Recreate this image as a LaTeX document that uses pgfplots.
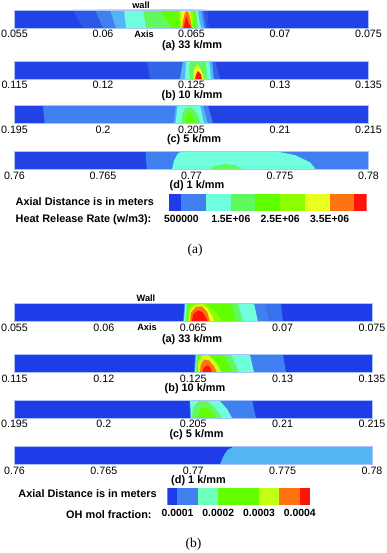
\documentclass[border=0pt]{standalone}
\usepackage{fontspec}
\setmainfont{Liberation Sans}
\newfontfamily\serifcap{Liberation Serif}
\usepackage{pgfplots}
\pgfplotsset{compat=1.18}
\definecolor{cDark}{HTML}{2342E6}
\definecolor{cBack}{HTML}{1E3CE8}
\definecolor{cSoft}{HTML}{2C58E8}
\definecolor{cMid}{HTML}{4080F0}
\definecolor{cSky}{HTML}{55B4F4}
\definecolor{cCyan}{HTML}{70FFDC}
\definecolor{cLight}{HTML}{62F860}
\definecolor{cGreen}{HTML}{60FF00}
\definecolor{cLime}{HTML}{8CFF00}
\definecolor{cYellow}{HTML}{E8FF20}
\definecolor{cOrange}{HTML}{FF7410}
\definecolor{cRed}{HTML}{FF1408}
\definecolor{edge}{HTML}{A8C4F8}
\newcommand{\fs}[1]{\fontsize{#1bp}{#1bp}\selectfont}
\pgfplotsset{
  chan/.style={
    scale only axis,width=354bp,height=18bp,anchor=south west,
    ymin=0,ymax=1,ytick=\empty,scaled x ticks=false,
    xtick pos=bottom,major tick length=0pt,
    xticklabel style={font=\fs{10.7},yshift=1pt},
    axis line style={edge,line width=0.6pt},
    axis on top,axis background/.style={fill=cDark},
  },
  low/.style={chan,width=357.5bp,axis background/.style={fill=cBack}},
  bar/.style={
    scale only axis,anchor=south west,ymin=0,ymax=1,ytick=\empty,scaled x ticks=false,
    xtick pos=bottom,major tick length=0pt,
    xticklabel style={font=\bfseries\fs{10.4},yshift=-1.5pt},
    axis line style={draw=none},
  },
  reg/.style={fill=#1,draw=none},
}
\begin{document}
\begin{tikzpicture}
\useasboundingbox (0,0) rectangle (387bp,-553bp);

% panel (a), heat release rate
\begin{axis}[chan,at={(14.5bp,-28bp)},xmin=0.055,xmax=0.075,
  xtick={0.055,0.06,0.065,0.07,0.075},xticklabels={0.055,0.06,0.065,0.07,0.075}]
\addplot[reg=cSoft] coordinates {(0.0583,1)(0.05887,0)(0.06599,0)(0.06588,1)} --cycle;
\addplot[reg=cMid] coordinates {(0.05955,1)(0.0600,0)(0.06582,0)(0.06565,1)} --cycle;
\addplot[reg=cSky] coordinates {(0.0604,1)(0.06073,0)(0.06571,0)(0.06554,1)} --cycle;
\addplot[reg=cCyan] coordinates {(0.06119,1)(0.0613,0)(0.06554,0)(0.06542,0.5)(0.06537,1)} --cycle;
\addplot[reg=cLight] coordinates {(0.06226,1)(0.06243,0)(0.06537,0)(0.06531,0.5)(0.06525,1)} --cycle;
\addplot[reg=cGreen] coordinates {(0.06322,1)(0.0639,0)(0.06525,0)(0.0652,1)} --cycle;
\addplot[reg=cLime] coordinates {(0.06424,1)(0.06435,0)(0.06515,0)(0.06508,1)} --cycle;
\addplot[reg=cYellow] coordinates {(0.06441,1)(0.06435,0.5)(0.06446,0)(0.06503,0)(0.06492,1)} --cycle;
\addplot[reg=cOrange] coordinates {(0.06446,0)(0.06452,0.4)(0.06463,0.85)(0.06475,0.95)(0.06486,0.8)(0.06497,0.3)(0.06503,0)} --cycle;
\addplot[reg=cRed] coordinates {(0.06455,0)(0.06461,0.3)(0.06472,0.65)(0.06483,0.3)(0.06497,0)} --cycle;
\end{axis}

\begin{axis}[chan,at={(14.5bp,-79bp)},xmin=0.115,xmax=0.135,
  xtick={0.115,0.12,0.125,0.13,0.135},xticklabels={0.115,0.12,0.125,0.13,0.135}]
\addplot[reg=cSoft!70!cMid] coordinates {(0.12249,1)(0.12266,0)(0.12661,0)(0.12633,1)} --cycle;
\addplot[reg=cSky] coordinates {(0.12452,1)(0.12435,0)(0.12627,0)(0.12616,1)} --cycle;
\addplot[reg=cCyan] coordinates {(0.12469,1)(0.12463,0)(0.1261,0)(0.12605,0.5)(0.12599,1)} --cycle;
\addplot[reg=cLight] coordinates {(0.12492,1)(0.12486,0.5)(0.12492,0)(0.12588,0)(0.12582,1)} --cycle;
\addplot[reg=cYellow] coordinates {(0.12509,0)(0.12514,0.5)(0.12534,0.82)(0.12554,0.5)(0.12571,0)} --cycle;
\addplot[reg=cRed] coordinates {(0.1252,0)(0.12525,0.25)(0.12537,0.45)(0.12554,0.25)(0.12559,0)} --cycle;
\end{axis}

\begin{axis}[chan,at={(14.5bp,-123.5bp)},xmin=0.195,xmax=0.215,
  xtick={0.195,0.2,0.205,0.21,0.215},xticklabels={0.195,0.2,0.205,0.21,0.215}]
\addplot[reg=cMid] coordinates {(0.19661,1)(0.1967,0)(0.20622,0)(0.20593,1)} --cycle;
\addplot[reg=cSky] coordinates {(0.20412,1)(0.20401,0)(0.20593,0)(0.20565,1)} --cycle;
\addplot[reg=cCyan] coordinates {(0.20421,1)(0.2041,0)(0.20571,0)(0.20548,1)} --cycle;
\addplot[reg=cLight] coordinates {(0.20444,0)(0.20446,0.5)(0.20469,0.88)(0.20503,0.88)(0.20537,0.5)(0.20548,0)} --cycle;
\addplot[reg=cGreen] coordinates {(0.20463,0)(0.20469,0.35)(0.20486,0.7)(0.20509,0.35)(0.20525,0)} --cycle;
\end{axis}

\begin{axis}[chan,at={(14.5bp,-169.5bp)},xmin=0.76,xmax=0.78,
  xtick={0.76,0.765,0.77,0.775,0.78},xticklabels={0.76,0.765,0.77,0.775,0.78}]
\addplot[reg=cMid] coordinates {(0.76741,1)(0.76747,0)(0.78,0)(0.78,1)} --cycle;
\addplot[reg=cCyan] coordinates {(0.7689,0)(0.76901,0.5)(0.76924,0.9)(0.76946,1)(0.77483,1)(0.77585,0.8)(0.7767,0.4)(0.77703,0)} --cycle;
\addplot[reg=cLight] coordinates {(0.77099,0)(0.77133,0.2)(0.77189,0.3)(0.77246,0.25)(0.77291,0)} --cycle;
\end{axis}

% colour bar of panel (a)
\begin{axis}[bar,at={(169bp,-210.7bp)},width=197.7bp,height=16.7bp,
  xmin=250000,xmax=4250000,
  xtick={500000,1500000,2500000,3500000},xticklabels={500000,1.5E+06,2.5E+06,3.5E+06}]
\addplot[reg=cBack] coordinates {(250000,0)(500000,0)(500000,1)(250000,1)} --cycle;
\addplot[reg=cMid] coordinates {(500000,0)(1000000,0)(1000000,1)(500000,1)} --cycle;
\addplot[reg=cCyan] coordinates {(1000000,0)(1500000,0)(1500000,1)(1000000,1)} --cycle;
\addplot[reg=cLight] coordinates {(1500000,0)(2000000,0)(2000000,1)(1500000,1)} --cycle;
\addplot[reg=cGreen] coordinates {(2000000,0)(2500000,0)(2500000,1)(2000000,1)} --cycle;
\addplot[reg=cLime] coordinates {(2500000,0)(3000000,0)(3000000,1)(2500000,1)} --cycle;
\addplot[reg=cYellow] coordinates {(3000000,0)(3500000,0)(3500000,1)(3000000,1)} --cycle;
\addplot[reg=cOrange] coordinates {(3500000,0)(4000000,0)(4000000,1)(3500000,1)} --cycle;
\addplot[reg=cRed] coordinates {(4000000,0)(4250000,0)(4250000,1)(4000000,1)} --cycle;
\end{axis}

% panel (b), OH mol fraction
\begin{axis}[low,at={(14.5bp,-321.5bp)},xmin=0.055,xmax=0.075,
  xtick={0.055,0.06,0.065,0.07,0.075},xticklabels={0.055,0.06,0.065,0.07,0.075}]
\addplot[reg=cMid!80!cBack] coordinates {(0.06451,1)(0.06443,0)(0.07002,0)(0.06991,1)} --cycle;
\addplot[reg=cMid] coordinates {(0.06451,1)(0.06445,0)(0.06924,0)(0.06901,1)} --cycle;
\addplot[reg=cCyan] coordinates {(0.06454,1)(0.06448,0)(0.06862,0)(0.0684,1)} --cycle;
\addplot[reg=cLight] coordinates {(0.06465,1)(0.06459,0)(0.06778,0)(0.0675,1)} --cycle;
\addplot[reg=cGreen] coordinates {(0.06468,1)(0.06465,0)(0.06739,0)(0.06711,1)} --cycle;
\addplot[reg=cLime] coordinates {(0.06471,0)(0.06471,0.8)(0.0651,1)(0.06566,1)(0.06622,0.6)(0.06661,0)} --cycle;
\addplot[reg=cYellow] coordinates {(0.06476,0)(0.06482,0.6)(0.0651,0.88)(0.06549,0.95)(0.06582,0.7)(0.06605,0.3)(0.06616,0)} --cycle;
\addplot[reg=cOrange] coordinates {(0.06482,0)(0.06487,0.5)(0.06515,0.82)(0.06549,0.85)(0.06577,0.55)(0.06594,0)} --cycle;
\addplot[reg=cRed] coordinates {(0.06493,0)(0.06499,0.4)(0.06527,0.62)(0.06554,0.5)(0.06571,0.2)(0.06582,0)} --cycle;
\end{axis}

\begin{axis}[low,at={(14.5bp,-372.5bp)},xmin=0.115,xmax=0.135,
  xtick={0.115,0.12,0.125,0.13,0.135},xticklabels={0.115,0.12,0.125,0.13,0.135}]
\addplot[reg=cMid] coordinates {(0.1251,1)(0.12504,0)(0.13019,0)(0.13002,1)} --cycle;
\addplot[reg=cCyan] coordinates {(0.12515,1)(0.1251,0)(0.1284,0)(0.12817,1)} --cycle;
\addplot[reg=cLight] coordinates {(0.12521,1)(0.12515,0)(0.12756,0)(0.12711,1)} --cycle;
\addplot[reg=cGreen] coordinates {(0.12524,1)(0.12521,0)(0.12717,0)(0.12672,1)} --cycle;
\addplot[reg=cYellow!70!cLime] coordinates {(0.12527,0)(0.12527,0.6)(0.12549,0.95)(0.12582,0.97)(0.12616,0.7)(0.12644,0.3)(0.12655,0)} --cycle;
\addplot[reg=cOrange] coordinates {(0.12538,0)(0.12541,0.4)(0.1256,0.72)(0.12588,0.68)(0.12616,0.35)(0.12633,0)} --cycle;
\addplot[reg=cRed] coordinates {(0.12552,0)(0.12557,0.25)(0.12577,0.4)(0.12594,0.3)(0.12605,0)} --cycle;
\end{axis}

\begin{axis}[low,at={(14.5bp,-418bp)},xmin=0.195,xmax=0.215,
  xtick={0.195,0.2,0.205,0.21,0.215},xticklabels={0.195,0.2,0.205,0.21,0.215}]
\addplot[reg=cMid] coordinates {(0.20479,1)(0.20482,0)(0.20851,0)(0.20829,1)} --cycle;
\addplot[reg=cCyan] coordinates {(0.20482,1)(0.20487,0)(0.20717,0)(0.20689,0.5)(0.20644,1)} --cycle;
\addplot[reg=cLight] coordinates {(0.20493,0)(0.20499,0.6)(0.20532,0.95)(0.20577,0.95)(0.20616,0.6)(0.2065,0.2)(0.20661,0)} --cycle;
\addplot[reg=cGreen] coordinates {(0.20527,0)(0.20532,0.4)(0.20566,0.62)(0.20599,0.4)(0.20627,0)} --cycle;
\end{axis}

\begin{axis}[low,at={(14.5bp,-464bp)},xmin=0.76,xmax=0.78,
  xtick={0.76,0.765,0.77,0.775,0.78},xticklabels={0.76,0.765,0.77,0.775,0.78}]
\addplot[reg=cSky] coordinates {(0.7715,0)(0.77172,0.5)(0.77194,0.8)(0.77233,1)(0.78,1)(0.78,0)} --cycle;
\end{axis}

% colour bar of panel (b)
\begin{axis}[bar,at={(167.3bp,-504.7bp)},width=142.7bp,height=16.4bp,
  xmin=0.000075,xmax=0.000425,
  xtick={0.0001,0.0002,0.0003,0.0004},xticklabels={0.0001,0.0002,0.0003,0.0004}]
\addplot[reg=cBack] coordinates {(0.000075,0)(0.0001,0)(0.0001,1)(0.000075,1)} --cycle;
\addplot[reg=cMid] coordinates {(0.0001,0)(0.00015,0)(0.00015,1)(0.0001,1)} --cycle;
\addplot[reg=cCyan!85!cGreen] coordinates {(0.00015,0)(0.0002,0)(0.0002,1)(0.00015,1)} --cycle;
\addplot[reg=cGreen] coordinates {(0.0002,0)(0.0003,0)(0.0003,1)(0.0002,1)} --cycle;
\addplot[reg=cYellow!60!cLime] coordinates {(0.0003,0)(0.00035,0)(0.00035,1)(0.0003,1)} --cycle;
\addplot[reg=cOrange] coordinates {(0.00035,0)(0.0004,0)(0.0004,1)(0.00035,1)} --cycle;
\addplot[reg=cRed] coordinates {(0.0004,0)(0.000425,0)(0.000425,1)(0.0004,1)} --cycle;
\end{axis}

% text of panel (a)
\tikzset{t/.style={inner sep=0pt,font=\bfseries\fs{10.9}},s/.style={inner sep=0pt,font=\bfseries\fs{9.2}},
  l/.style={inner sep=0pt,anchor=west,font=\bfseries\fs{10.9}}}
\node[s] at (141bp,-5bp) {wall};
\node[s] at (144bp,-34bp) {Axis};
\node[t] at (192bp,-46bp) {(a) 33 k/mm};
\node[t] at (192bp,-96bp) {(b) 10 k/mm};
\node[t] at (194bp,-140bp) {(c) 5 k/mm};
\node[t] at (197bp,-186bp) {(d) 1 k/mm};
\node[l] at (15.5bp,-201.5bp) {Axial Distance is in meters};
\node[l] at (15.5bp,-220bp) {Heat Release Rate (w/m3):};
\node[inner sep=0pt,font=\serifcap\fs{13.5}] at (195bp,-250bp) {(a)};
% text of panel (b)
\node[s] at (146bp,-298bp) {Wall};
\node[s] at (147bp,-327.5bp) {Axis};
\node[t] at (192bp,-339.5bp) {(a) 33 k/mm};
\node[t] at (195bp,-389bp) {(b) 10 k/mm};
\node[t] at (196.5bp,-434.7bp) {(c) 5 k/mm};
\node[t] at (198.5bp,-481bp) {(d) 1 k/mm};
\node[l] at (18.3bp,-494bp) {Axial Distance is in meters};
\node[l] at (66bp,-514.7bp) {OH mol fraction:};
\node[inner sep=0pt,font=\serifcap\fs{13.5}] at (193.5bp,-544bp) {(b)};
\end{tikzpicture}
\end{document}
